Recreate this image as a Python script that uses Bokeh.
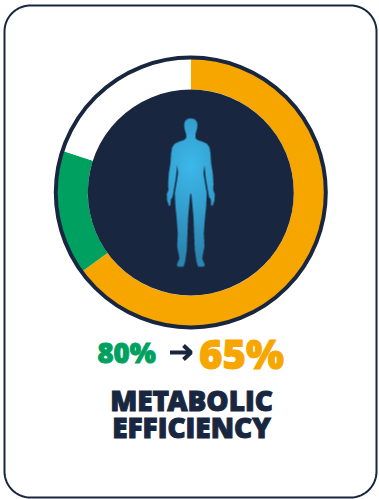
import numpy as np
from bokeh.core.properties import value
from bokeh.embed import file_html
from bokeh.models import Range1d
from bokeh.plotting import figure
from bokeh.resources import INLINE

# Ring shares, clockwise from twelve o'clock
segment_labels = ["current", "previous", "remainder"]
segment_values = [65, 15, 20]
segment_colors = ["#F7A600", "#00A160", "#FFFFFF"]

before_label = "80%"
after_label = "65%"
title_lines = ["METABOLIC", "EFFICIENCY"]

NAVY = "#18273F"
FONT = value("Open Sans ExtraBold")

W, H = 379, 499
CX, CY = 190.3, 192.0

p = figure(width=W, height=H, x_range=Range1d(0, W), y_range=Range1d(H, 0),
           output_backend="svg", toolbar_location=None, min_border=0,
           outline_line_color=None, background_fill_color="white",
           border_fill_color="white")
p.axis.visible = False
p.grid.visible = False


def rounded_card(x0, y0, x1, y1, r):
    t = np.linspace(0, np.pi / 2, 24)
    xs = np.concatenate([x1 - r + r * np.sin(t), x1 - r + r * np.cos(t),
                         x0 + r - r * np.sin(t), x0 + r - r * np.cos(t)])
    ys = np.concatenate([y0 + r - r * np.cos(t), y1 - r + r * np.sin(t),
                         y1 - r + r * np.cos(t), y0 + r - r * np.sin(t)])
    return xs, ys


card_x, card_y = rounded_card(4, 5, 376, 497, 26)
p.patch(card_x, card_y, fill_color="white", line_color=NAVY, line_width=2)

# Share ring, drawn from the segment values
edges = np.cumsum([0] + segment_values) / sum(segment_values) * 2 * np.pi
for i, color in enumerate(segment_colors):
    p.annular_wedge(CX, CY, inner_radius=103, outer_radius=133.5,
                    start_angle=np.pi / 2 - edges[i + 1],
                    end_angle=np.pi / 2 - edges[i],
                    fill_color=color, line_color=None)
p.circle(CX, CY, radius=135, fill_color=None, line_color=NAVY, line_width=4)
p.circle(CX, CY, radius=103, fill_color=NAVY, line_color=None)

# Standing figure: right half of the outline as offsets from its axis, at 1/3 px
half_outline = np.array([
    (0, 25), (10, 27), (17, 33), (20, 43), (19, 55), (16, 66), (14, 72), (14, 84),
    (20, 90), (35, 95), (48, 101), (56, 112), (59, 130), (61, 160), (66, 190),
    (68, 222), (67, 240), (72, 252), (71, 272), (65, 288), (61, 286), (60, 268),
    (55, 262), (51, 240), (45, 205), (41, 165), (38, 190), (42, 215), (48, 250),
    (46, 290), (42, 330), (39, 370), (41, 410), (34, 445), (42, 464), (39, 470),
    (22, 470), (17, 455), (12, 420), (10, 370), (8, 320), (2, 255), (0, 250),
], dtype=float)
outline_x = np.concatenate([half_outline[:, 0], -half_outline[::-1, 0]]) / 3 + CX
outline_y = np.concatenate([half_outline[:, 1], half_outline[::-1, 1]]) / 3 + 109.5


def inside(px, py, vx, vy):
    hit = np.zeros(px.shape, bool)
    for j in range(len(vx)):
        k = (j + 1) % len(vx)
        if vy[j] == vy[k]:
            continue
        cross = (vy[j] > py) != (vy[k] > py)
        at = vx[j] + (py - vy[j]) * (vx[k] - vx[j]) / (vy[k] - vy[j])
        hit ^= cross & (px < at)
    return hit


# Raster the figure with a radial glow centred on the chest
ix0, iy0, iw, ih = 160, 112, 61, 160
ss = 4
gx, gy = np.meshgrid((np.arange(iw * ss) + 0.5) / ss + ix0,
                     (np.arange(ih * ss) + 0.5) / ss + iy0)
mask = inside(gx, gy, outline_x, outline_y)
alpha = mask.reshape(ih, ss, iw, ss).mean(axis=(1, 3))
dist = np.hypot((gx - CX) / 1.0, (gy - 165) / 1.5)
fade = np.clip(dist / 62, 0, 1).reshape(ih, ss, iw, ss).mean(axis=(1, 3))
inner_rgb, outer_rgb = np.array([60, 185, 235.0]), np.array([44, 132, 176.0])
img = np.zeros((ih, iw), dtype=np.uint32)
view = img.view(np.uint8).reshape(ih, iw, 4)
for c in range(3):
    view[..., c] = inner_rgb[c] + (outer_rgb[c] - inner_rgb[c]) * fade
view[..., 3] = (alpha * 255).astype(np.uint8)
p.image_rgba(image=[img], x=ix0, y=iy0, dw=iw, dh=ih)

# Before and after figures
p.text([97], [352], text=[before_label], text_color=segment_colors[1], text_font=FONT,
       text_font_size="27.5px", text_outline_color=segment_colors[1],
       text_baseline="middle", text_align="left")
p.text([198.5], [352.5], text=[after_label], text_color=segment_colors[0], text_font=FONT,
       text_font_size="40px", text_outline_color=segment_colors[0],
       text_baseline="middle", text_align="left")

# Arrow between the two figures
p.line([169.5, 190], [352, 352], line_color=NAVY, line_width=4)
p.line([183, 190.5, 183], [345, 352, 359], line_color=NAVY, line_width=4)

for label, mid in zip(title_lines, [399.5, 426]):
    p.text([191], [mid], text=[label], text_color=NAVY, text_font=FONT,
           text_font_size="28px", text_outline_color=NAVY,
           text_baseline="middle", text_align="center")

open("out.html", "w").write(file_html(p, INLINE))
